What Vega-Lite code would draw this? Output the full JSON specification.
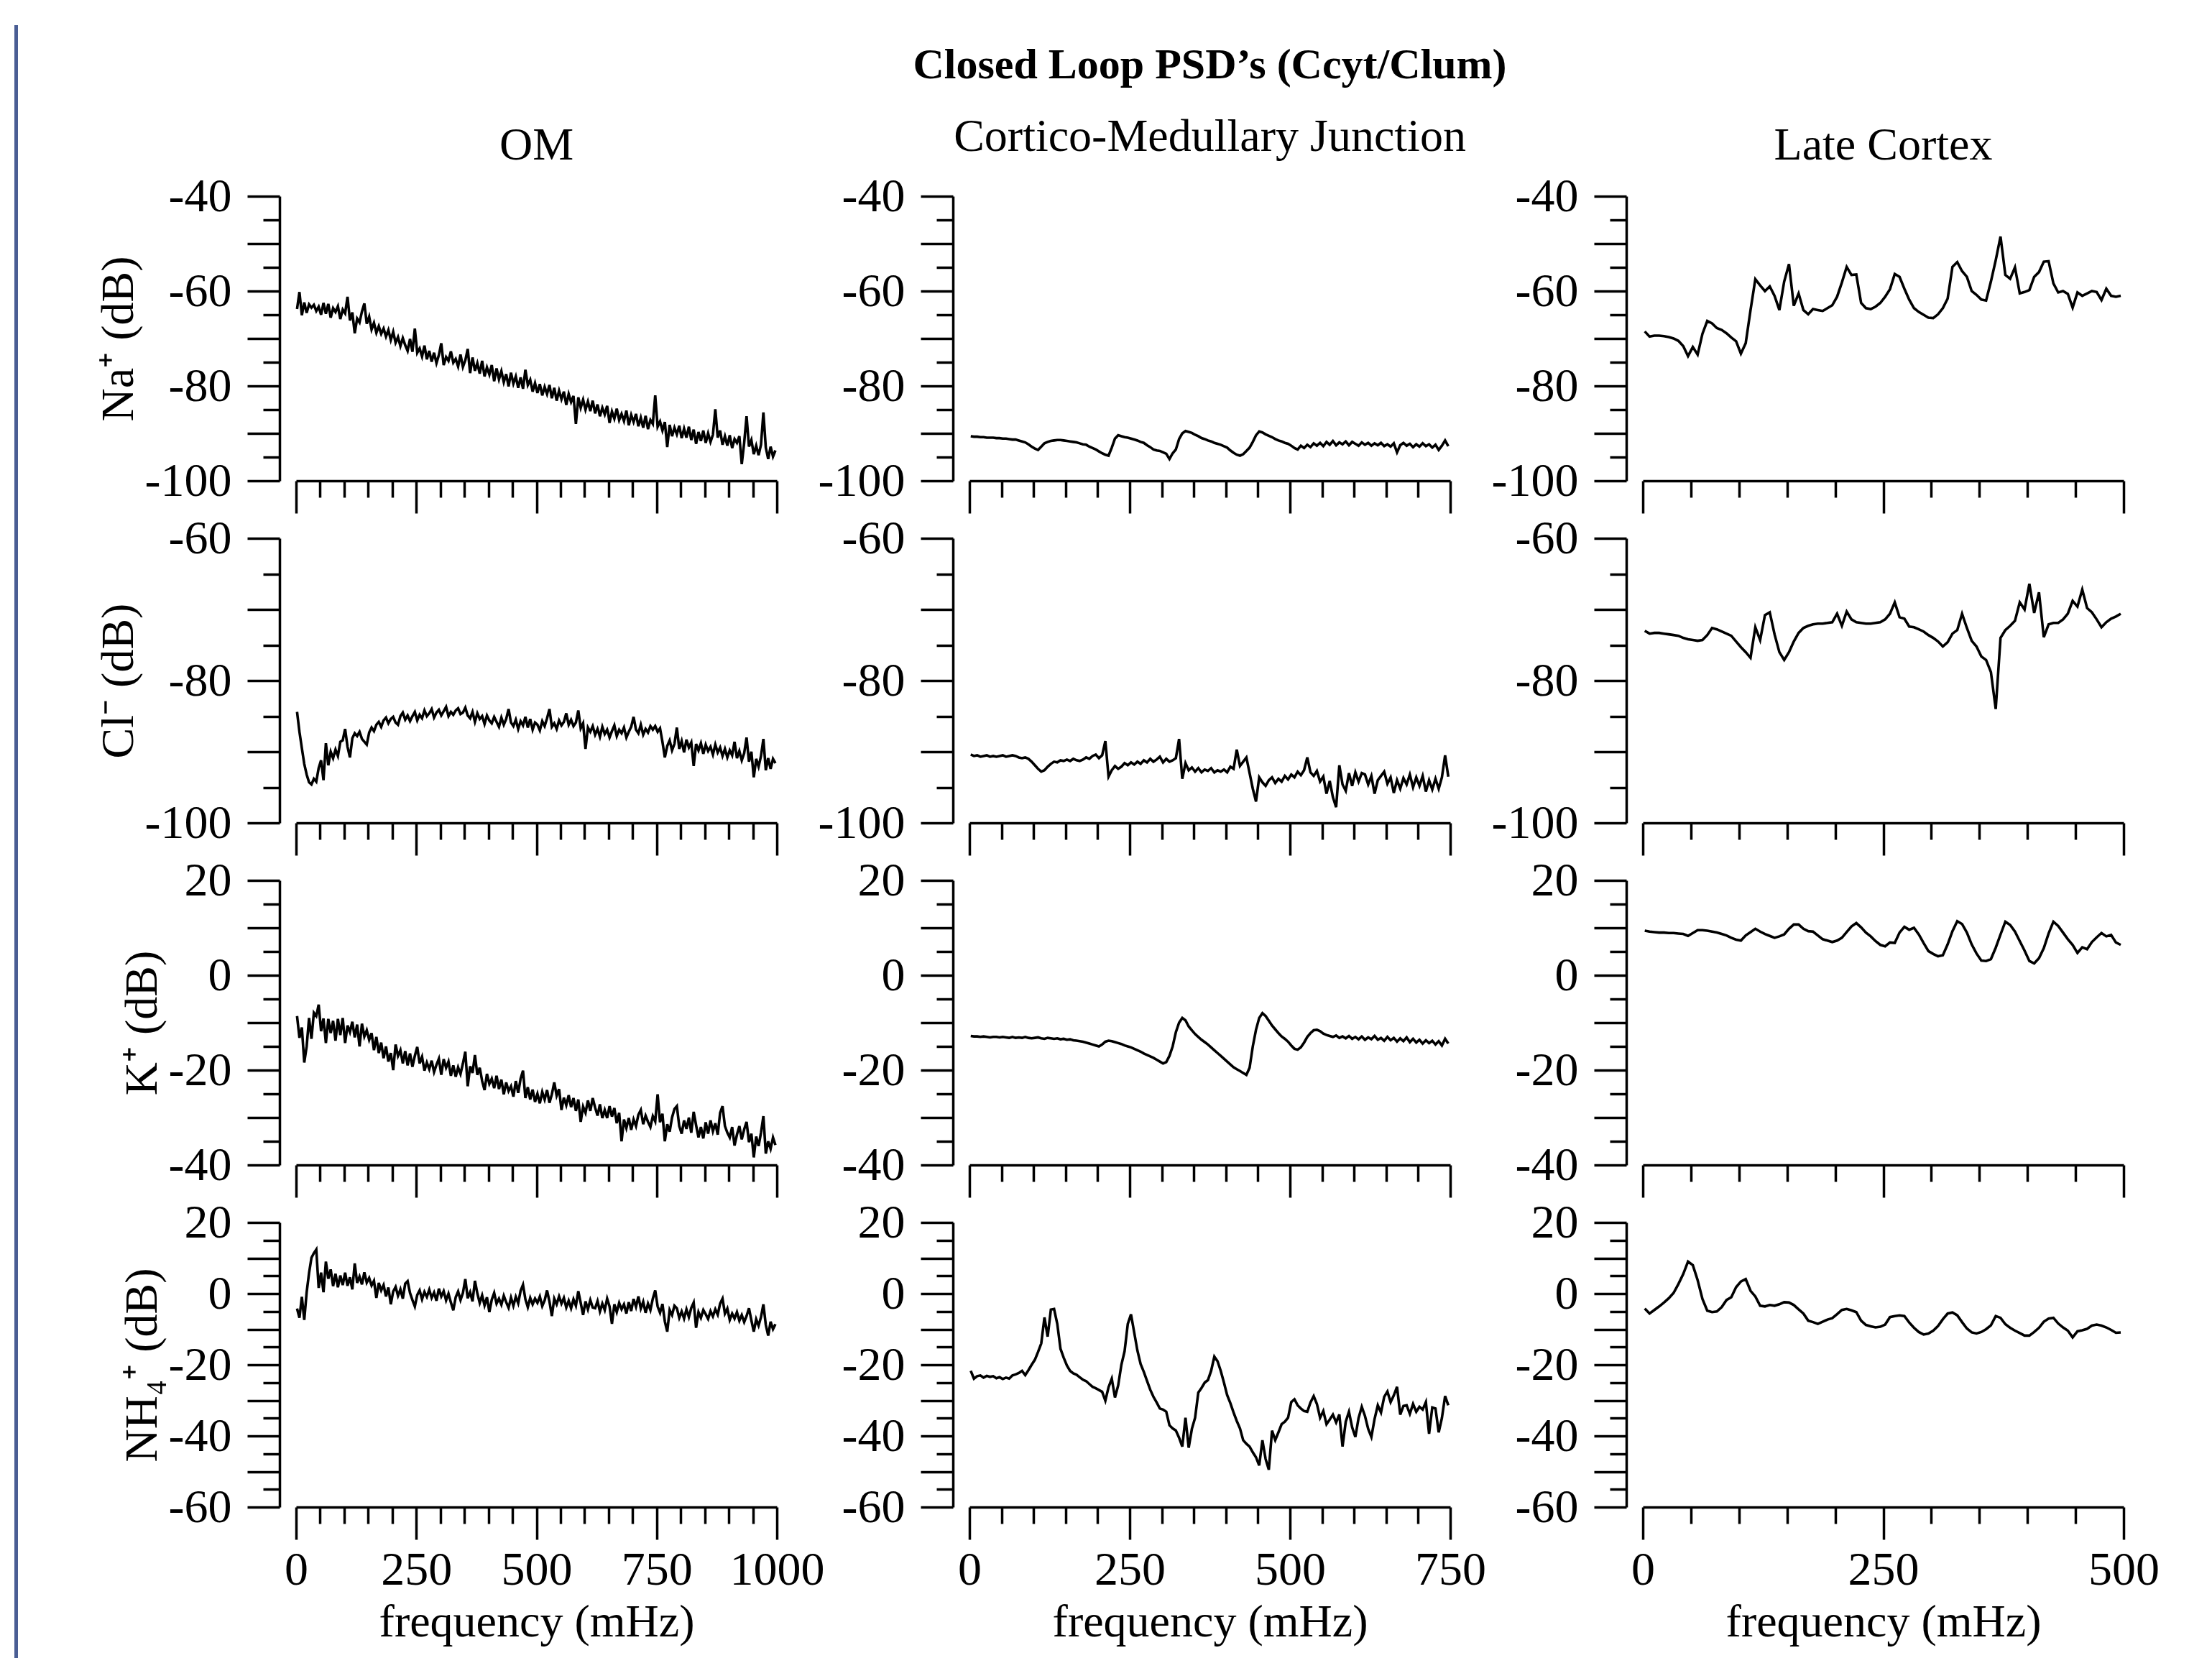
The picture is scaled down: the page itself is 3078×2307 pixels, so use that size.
{
"$schema":"https://vega.github.io/schema/vega-lite/v6.json",
"background":"white",
"padding":{"left":20,"top":35,"right":5,"bottom":0},
"config":{
 "view":{"stroke":null},
 "font":"Liberation Serif",
 "axis":{"grid":false,"domainColor":"black","domainWidth":3.5,"tickColor":"black","tickWidth":3.5,"labelColor":"black","labelFont":"Liberation Serif","labelFontSize":66,"titleFont":"Liberation Serif","titleFontSize":64,"titleFontWeight":"normal","titleColor":"black","labelFlush":false,"labelOverlap":false},
 "title":{"font":"Liberation Serif","color":"black"},
 "line":{"color":"black","strokeWidth":3.6}
},
"datasets":{
"om":[
{"f":2,"na":-63.8,"cl":-84.4,"k":-8.6,"nh4":-4.2},{"f":7,"na":-60.2,"cl":-87.2,"k":-13.2,"nh4":-6.8},{"f":12,"na":-65.1,"cl":-89.5,"k":-11.0,"nh4":-0.9},{"f":17,"na":-62.4,"cl":-91.7,"k":-18.4,"nh4":-7.4},{"f":22,"na":-64.6,"cl":-93.2,"k":-15.0,"nh4":0.4},{"f":27,"na":-62.8,"cl":-94.3,"k":-9.0,"nh4":5.8},{"f":32,"na":-63.5,"cl":-94.6,"k":-13.4,"nh4":10.1},{"f":37,"na":-62.9,"cl":-93.8,"k":-7.9,"nh4":11.4},{"f":42,"na":-64.2,"cl":-94.2,"k":-8.6,"nh4":12.4},{"f":47,"na":-63.3,"cl":-92.3,"k":-6.2,"nh4":1.6},
{"f":52,"na":-65.0,"cl":-91.2,"k":-11.8,"nh4":5.9},{"f":57,"na":-62.5,"cl":-94.0,"k":-9.1,"nh4":0.4},{"f":62,"na":-64.8,"cl":-88.8,"k":-14.3,"nh4":9.0},{"f":67,"na":-62.7,"cl":-91.9,"k":-9.2,"nh4":4.2},{"f":72,"na":-65.6,"cl":-90.0,"k":-12.2,"nh4":6.8},{"f":77,"na":-63.6,"cl":-90.9,"k":-9.6,"nh4":2.1},{"f":82,"na":-64.4,"cl":-89.7,"k":-13.8,"nh4":5.6},{"f":87,"na":-63.2,"cl":-90.6,"k":-9.2,"nh4":1.8},{"f":92,"na":-65.9,"cl":-88.6,"k":-12.6,"nh4":5.1},{"f":97,"na":-63.9,"cl":-88.4,"k":-9.0,"nh4":2.4},
{"f":102,"na":-64.7,"cl":-86.8,"k":-14.3,"nh4":5.9},{"f":107,"na":-61.2,"cl":-89.3,"k":-10.6,"nh4":2.2},{"f":112,"na":-66.2,"cl":-90.8,"k":-12.0,"nh4":4.6},{"f":117,"na":-64.5,"cl":-88.1,"k":-9.8,"nh4":1.2},{"f":122,"na":-68.9,"cl":-87.4,"k":-13.1,"nh4":8.5},{"f":127,"na":-65.8,"cl":-87.8,"k":-10.4,"nh4":3.0},{"f":132,"na":-66.6,"cl":-87.2,"k":-15.0,"nh4":4.8},{"f":137,"na":-64.3,"cl":-88.2,"k":-10.2,"nh4":2.6},{"f":142,"na":-62.6,"cl":-88.6,"k":-12.9,"nh4":6.0},{"f":147,"na":-66.9,"cl":-89.0,"k":-11.6,"nh4":3.1},
{"f":152,"na":-65.4,"cl":-87.3,"k":-13.6,"nh4":4.4},{"f":157,"na":-68.1,"cl":-86.6,"k":-12.2,"nh4":2.3},{"f":162,"na":-66.7,"cl":-87.1,"k":-15.8,"nh4":3.6},{"f":167,"na":-68.8,"cl":-86.2,"k":-13.0,"nh4":-1.2},{"f":172,"na":-67.4,"cl":-85.8,"k":-16.4,"nh4":3.0},{"f":177,"na":-69.0,"cl":-86.5,"k":-14.2,"nh4":0.9},{"f":182,"na":-67.9,"cl":-85.6,"k":-17.5,"nh4":2.4},{"f":187,"na":-69.6,"cl":-85.2,"k":-15.0,"nh4":-0.8},{"f":192,"na":-68.2,"cl":-86.0,"k":-18.2,"nh4":1.7},{"f":197,"na":-70.3,"cl":-85.4,"k":-16.4,"nh4":-3.0},
{"f":202,"na":-68.6,"cl":-85.1,"k":-20.0,"nh4":0.6},{"f":207,"na":-70.9,"cl":-85.9,"k":-14.6,"nh4":1.9},{"f":212,"na":-69.7,"cl":-86.2,"k":-17.0,"nh4":-0.6},{"f":217,"na":-71.6,"cl":-85.0,"k":-15.8,"nh4":1.2},{"f":222,"na":-69.9,"cl":-84.5,"k":-18.6,"nh4":-1.4},{"f":227,"na":-71.4,"cl":-85.5,"k":-16.0,"nh4":2.8},{"f":232,"na":-72.6,"cl":-84.9,"k":-19.0,"nh4":3.5},{"f":237,"na":-70.1,"cl":-85.7,"k":-16.5,"nh4":0.2},{"f":242,"na":-72.8,"cl":-85.0,"k":-19.3,"nh4":-1.8},{"f":247,"na":-67.9,"cl":-84.4,"k":-17.0,"nh4":-3.6},
{"f":252,"na":-73.0,"cl":-85.6,"k":-15.1,"nh4":-0.4},{"f":257,"na":-72.1,"cl":-84.8,"k":-18.6,"nh4":0.9},{"f":262,"na":-73.8,"cl":-85.3,"k":-17.2,"nh4":-1.6},{"f":267,"na":-71.5,"cl":-84.2,"k":-20.1,"nh4":0.5},{"f":272,"na":-74.4,"cl":-85.0,"k":-18.4,"nh4":-0.9},{"f":277,"na":-72.6,"cl":-84.6,"k":-19.8,"nh4":1.1},{"f":282,"na":-74.9,"cl":-84.0,"k":-18.0,"nh4":-1.2},{"f":287,"na":-73.0,"cl":-85.2,"k":-20.4,"nh4":0.3},{"f":292,"na":-75.2,"cl":-84.5,"k":-18.9,"nh4":-2.0},{"f":297,"na":-73.5,"cl":-84.1,"k":-17.6,"nh4":1.4},
{"f":302,"na":-71.0,"cl":-84.9,"k":-21.0,"nh4":-0.8},{"f":307,"na":-75.6,"cl":-84.3,"k":-17.7,"nh4":0.7},{"f":312,"na":-73.9,"cl":-83.7,"k":-19.5,"nh4":-1.9},{"f":317,"na":-74.7,"cl":-85.0,"k":-18.2,"nh4":0.0},{"f":322,"na":-72.7,"cl":-84.4,"k":-21.2,"nh4":-2.5},{"f":327,"na":-75.1,"cl":-84.8,"k":-19.0,"nh4":-4.7},{"f":332,"na":-74.3,"cl":-84.2,"k":-21.4,"nh4":-1.0},{"f":337,"na":-75.9,"cl":-83.9,"k":-19.4,"nh4":0.6},{"f":342,"na":-73.4,"cl":-84.7,"k":-20.8,"nh4":-1.8},{"f":347,"na":-76.0,"cl":-84.5,"k":-18.6,"nh4":0.2},
{"f":352,"na":-74.6,"cl":-83.8,"k":-16.1,"nh4":4.1},{"f":357,"na":-72.2,"cl":-84.9,"k":-23.4,"nh4":-1.3},{"f":362,"na":-77.3,"cl":-85.3,"k":-19.2,"nh4":0.4},{"f":367,"na":-74.0,"cl":-84.4,"k":-20.6,"nh4":-2.2},{"f":372,"na":-76.8,"cl":-85.8,"k":-16.8,"nh4":3.6},{"f":377,"na":-75.2,"cl":-84.6,"k":-21.0,"nh4":0.1},{"f":382,"na":-77.4,"cl":-85.4,"k":-19.5,"nh4":-2.6},{"f":387,"na":-74.7,"cl":-85.0,"k":-22.3,"nh4":-0.5},{"f":392,"na":-78.0,"cl":-86.1,"k":-24.2,"nh4":-3.3},{"f":397,"na":-76.1,"cl":-84.9,"k":-20.8,"nh4":-1.0},
{"f":402,"na":-77.6,"cl":-85.6,"k":-22.9,"nh4":-5.2},{"f":407,"na":-75.6,"cl":-86.0,"k":-21.8,"nh4":-1.7},{"f":412,"na":-79.0,"cl":-85.1,"k":-23.8,"nh4":0.2},{"f":417,"na":-76.3,"cl":-85.8,"k":-21.2,"nh4":-2.8},{"f":422,"na":-78.6,"cl":-86.5,"k":-24.0,"nh4":-1.4},{"f":427,"na":-76.9,"cl":-85.2,"k":-22.0,"nh4":-3.1},{"f":432,"na":-79.2,"cl":-86.2,"k":-25.1,"nh4":-0.6},{"f":437,"na":-77.5,"cl":-85.4,"k":-22.6,"nh4":-2.4},{"f":442,"na":-80.1,"cl":-84.0,"k":-24.4,"nh4":-4.0},{"f":447,"na":-77.2,"cl":-85.9,"k":-23.4,"nh4":-1.1},
{"f":452,"na":-79.5,"cl":-86.4,"k":-25.6,"nh4":-3.4},{"f":457,"na":-78.0,"cl":-85.5,"k":-22.3,"nh4":-0.9},{"f":462,"na":-80.4,"cl":-86.8,"k":-24.8,"nh4":-2.7},{"f":467,"na":-78.2,"cl":-85.7,"k":-21.8,"nh4":0.8},{"f":472,"na":-80.6,"cl":-86.3,"k":-20.1,"nh4":2.5},{"f":477,"na":-76.6,"cl":-85.1,"k":-25.9,"nh4":-1.6},{"f":482,"na":-79.8,"cl":-86.6,"k":-23.6,"nh4":-3.8},{"f":487,"na":-78.7,"cl":-85.4,"k":-26.2,"nh4":-1.2},{"f":492,"na":-81.2,"cl":-86.9,"k":-24.1,"nh4":-3.0},{"f":497,"na":-79.4,"cl":-85.9,"k":-26.7,"nh4":-1.4},
{"f":502,"na":-81.5,"cl":-86.2,"k":-25.0,"nh4":-2.6},{"f":507,"na":-79.6,"cl":-87.0,"k":-27.0,"nh4":-0.8},{"f":512,"na":-82.0,"cl":-85.7,"k":-24.6,"nh4":-3.5},{"f":517,"na":-80.2,"cl":-86.4,"k":-26.2,"nh4":-1.9},{"f":522,"na":-81.7,"cl":-85.3,"k":-24.2,"nh4":0.9},{"f":527,"na":-79.8,"cl":-84.0,"k":-26.9,"nh4":-2.2},{"f":532,"na":-82.6,"cl":-86.5,"k":-25.1,"nh4":-6.3},{"f":537,"na":-80.4,"cl":-86.0,"k":-22.6,"nh4":-1.4},{"f":542,"na":-83.1,"cl":-86.8,"k":-25.4,"nh4":-3.0},{"f":547,"na":-81.0,"cl":-85.6,"k":-24.0,"nh4":-0.8},
{"f":552,"na":-82.8,"cl":-86.3,"k":-28.4,"nh4":-2.8},{"f":557,"na":-81.2,"cl":-85.8,"k":-25.8,"nh4":-1.2},{"f":562,"na":-84.0,"cl":-84.6,"k":-27.4,"nh4":-3.9},{"f":567,"na":-81.7,"cl":-86.2,"k":-25.3,"nh4":-2.0},{"f":572,"na":-83.4,"cl":-85.5,"k":-27.8,"nh4":-4.1},{"f":577,"na":-82.1,"cl":-86.4,"k":-25.9,"nh4":-1.6},{"f":582,"na":-88.0,"cl":-85.9,"k":-28.6,"nh4":-3.4},{"f":587,"na":-82.4,"cl":-84.2,"k":-26.2,"nh4":0.7},{"f":592,"na":-84.6,"cl":-86.7,"k":-30.9,"nh4":-2.6},{"f":597,"na":-82.9,"cl":-86.0,"k":-27.7,"nh4":-6.0},
{"f":602,"na":-85.0,"cl":-89.6,"k":-29.0,"nh4":-2.2},{"f":607,"na":-83.3,"cl":-86.6,"k":-26.4,"nh4":-4.4},{"f":612,"na":-85.3,"cl":-87.2,"k":-28.6,"nh4":-1.8},{"f":617,"na":-83.1,"cl":-86.4,"k":-25.9,"nh4":-3.9},{"f":622,"na":-85.8,"cl":-87.6,"k":-27.9,"nh4":-4.1},{"f":627,"na":-83.9,"cl":-86.8,"k":-29.6,"nh4":-2.1},{"f":632,"na":-86.4,"cl":-87.9,"k":-27.2,"nh4":-5.0},{"f":637,"na":-84.6,"cl":-86.5,"k":-30.1,"nh4":-2.8},{"f":642,"na":-86.0,"cl":-87.5,"k":-28.4,"nh4":-4.6},{"f":647,"na":-84.2,"cl":-86.9,"k":-30.1,"nh4":-1.4},
{"f":652,"na":-87.8,"cl":-88.0,"k":-27.6,"nh4":-3.6},{"f":657,"na":-85.4,"cl":-87.1,"k":-29.8,"nh4":-8.5},{"f":662,"na":-86.9,"cl":-86.3,"k":-28.0,"nh4":-3.0},{"f":667,"na":-84.8,"cl":-87.8,"k":-31.2,"nh4":-5.2},{"f":672,"na":-87.2,"cl":-86.9,"k":-29.0,"nh4":-2.6},{"f":677,"na":-85.9,"cl":-87.4,"k":-35.0,"nh4":-4.4},{"f":682,"na":-87.4,"cl":-86.6,"k":-30.4,"nh4":-3.0},{"f":687,"na":-85.2,"cl":-88.0,"k":-32.2,"nh4":-5.6},{"f":692,"na":-88.3,"cl":-87.2,"k":-30.1,"nh4":-2.4},{"f":697,"na":-86.1,"cl":-86.5,"k":-32.6,"nh4":-4.9},
{"f":702,"na":-87.6,"cl":-85.1,"k":-30.4,"nh4":-1.5},{"f":707,"na":-85.9,"cl":-86.9,"k":-31.8,"nh4":-3.7},{"f":712,"na":-88.5,"cl":-87.4,"k":-29.4,"nh4":-0.8},{"f":717,"na":-86.7,"cl":-86.2,"k":-28.4,"nh4":-4.2},{"f":722,"na":-88.8,"cl":-87.6,"k":-31.4,"nh4":-2.3},{"f":727,"na":-86.3,"cl":-86.8,"k":-29.6,"nh4":-5.4},{"f":732,"na":-89.1,"cl":-87.3,"k":-30.9,"nh4":-2.8},{"f":737,"na":-87.2,"cl":-86.4,"k":-32.0,"nh4":-4.6},{"f":742,"na":-88.0,"cl":-86.9,"k":-29.7,"nh4":-1.4},{"f":747,"na":-82.0,"cl":-86.4,"k":-30.8,"nh4":0.9},
{"f":752,"na":-88.6,"cl":-87.2,"k":-25.1,"nh4":-3.6},{"f":757,"na":-87.5,"cl":-86.7,"k":-31.0,"nh4":-5.4},{"f":762,"na":-89.4,"cl":-88.6,"k":-29.2,"nh4":-2.9},{"f":767,"na":-87.6,"cl":-90.8,"k":-35.0,"nh4":-7.8},{"f":772,"na":-92.9,"cl":-89.2,"k":-31.4,"nh4":-10.7},{"f":777,"na":-88.2,"cl":-88.4,"k":-33.0,"nh4":-4.6},{"f":782,"na":-90.6,"cl":-89.8,"k":-30.0,"nh4":-6.0},{"f":787,"na":-88.8,"cl":-88.9,"k":-28.2,"nh4":-3.4},{"f":792,"na":-90.2,"cl":-86.6,"k":-27.6,"nh4":-4.1},{"f":797,"na":-88.4,"cl":-89.6,"k":-31.8,"nh4":-6.8},
{"f":802,"na":-91.0,"cl":-88.5,"k":-33.4,"nh4":-5.0},{"f":807,"na":-89.0,"cl":-90.1,"k":-30.6,"nh4":-7.0},{"f":812,"na":-90.9,"cl":-88.3,"k":-32.4,"nh4":-4.4},{"f":817,"na":-88.6,"cl":-89.4,"k":-30.0,"nh4":-6.6},{"f":822,"na":-91.4,"cl":-88.7,"k":-33.2,"nh4":-4.0},{"f":827,"na":-89.2,"cl":-92.0,"k":-28.8,"nh4":-2.5},{"f":832,"na":-92.2,"cl":-88.9,"k":-31.6,"nh4":-9.6},{"f":837,"na":-89.7,"cl":-89.8,"k":-34.2,"nh4":-5.2},{"f":842,"na":-91.6,"cl":-88.8,"k":-32.0,"nh4":-6.8},{"f":847,"na":-89.4,"cl":-90.3,"k":-34.4,"nh4":-4.6},
{"f":852,"na":-92.0,"cl":-89.0,"k":-31.0,"nh4":-5.8},{"f":857,"na":-90.0,"cl":-89.9,"k":-33.4,"nh4":-7.1},{"f":862,"na":-91.8,"cl":-89.3,"k":-30.6,"nh4":-4.9},{"f":867,"na":-90.3,"cl":-90.4,"k":-32.9,"nh4":-6.4},{"f":872,"na":-84.9,"cl":-89.0,"k":-31.2,"nh4":-4.4},{"f":877,"na":-90.9,"cl":-90.1,"k":-33.6,"nh4":-5.9},{"f":882,"na":-89.4,"cl":-89.4,"k":-29.0,"nh4":-2.8},{"f":887,"na":-92.4,"cl":-90.6,"k":-27.6,"nh4":-1.4},{"f":892,"na":-90.6,"cl":-89.6,"k":-31.8,"nh4":-5.6},{"f":897,"na":-92.6,"cl":-90.8,"k":-33.2,"nh4":-4.2},
{"f":902,"na":-90.4,"cl":-89.8,"k":-34.2,"nh4":-7.4},{"f":907,"na":-93.1,"cl":-90.5,"k":-32.0,"nh4":-5.6},{"f":912,"na":-91.2,"cl":-88.6,"k":-35.9,"nh4":-7.0},{"f":917,"na":-92.0,"cl":-90.9,"k":-33.6,"nh4":-5.2},{"f":922,"na":-90.6,"cl":-89.9,"k":-31.8,"nh4":-7.6},{"f":927,"na":-96.5,"cl":-91.2,"k":-34.6,"nh4":-6.0},{"f":932,"na":-92.0,"cl":-90.2,"k":-32.5,"nh4":-8.0},{"f":937,"na":-86.4,"cl":-88.0,"k":-30.9,"nh4":-6.3},{"f":942,"na":-92.8,"cl":-91.4,"k":-35.2,"nh4":-4.1},{"f":947,"na":-91.4,"cl":-90.0,"k":-33.4,"nh4":-7.5},
{"f":952,"na":-94.4,"cl":-93.6,"k":-38.4,"nh4":-10.7},{"f":957,"na":-92.6,"cl":-91.0,"k":-34.0,"nh4":-7.2},{"f":962,"na":-94.6,"cl":-92.1,"k":-36.0,"nh4":-9.0},{"f":967,"na":-92.4,"cl":-90.6,"k":-33.2,"nh4":-6.6},{"f":972,"na":-85.6,"cl":-88.2,"k":-29.7,"nh4":-3.0},{"f":977,"na":-93.0,"cl":-92.6,"k":-37.6,"nh4":-8.8},{"f":982,"na":-95.4,"cl":-90.9,"k":-35.0,"nh4":-11.8},{"f":987,"na":-92.8,"cl":-92.4,"k":-36.6,"nh4":-7.9},{"f":992,"na":-94.9,"cl":-91.0,"k":-34.2,"nh4":-10.0},{"f":997,"na":-93.6,"cl":-91.6,"k":-35.8,"nh4":-8.6}
],
"cmj":[
{"f":2,"na":-90.6,"cl":-90.4,"k":-12.8,"nh4":-21.7},{"f":7,"na":-90.7,"cl":-90.6,"k":-12.9,"nh4":-23.9},{"f":12,"na":-90.7,"cl":-90.5,"k":-12.9,"nh4":-23.2},{"f":17,"na":-90.8,"cl":-90.7,"k":-13.0,"nh4":-23.0},{"f":22,"na":-90.8,"cl":-90.6,"k":-12.9,"nh4":-23.6},{"f":27,"na":-90.9,"cl":-90.5,"k":-13.0,"nh4":-23.1},{"f":32,"na":-90.9,"cl":-90.7,"k":-13.1,"nh4":-23.4},{"f":37,"na":-90.9,"cl":-90.6,"k":-13.0,"nh4":-23.2},{"f":42,"na":-91.0,"cl":-90.7,"k":-13.0,"nh4":-23.8},{"f":47,"na":-91.0,"cl":-90.6,"k":-13.1,"nh4":-23.5},
{"f":52,"na":-91.1,"cl":-90.5,"k":-13.0,"nh4":-24.0},{"f":57,"na":-91.1,"cl":-90.7,"k":-13.1,"nh4":-23.6},{"f":62,"na":-91.2,"cl":-90.6,"k":-13.2,"nh4":-23.9},{"f":67,"na":-91.3,"cl":-90.5,"k":-13.0,"nh4":-23.0},{"f":72,"na":-91.3,"cl":-90.6,"k":-13.2,"nh4":-22.7},{"f":77,"na":-91.5,"cl":-90.8,"k":-13.1,"nh4":-22.3},{"f":82,"na":-91.7,"cl":-90.9,"k":-13.2,"nh4":-21.7},{"f":87,"na":-91.9,"cl":-90.8,"k":-13.0,"nh4":-22.9},{"f":92,"na":-92.3,"cl":-91.0,"k":-13.2,"nh4":-21.5},{"f":97,"na":-92.8,"cl":-91.4,"k":-13.3,"nh4":-20.0},
{"f":102,"na":-93.2,"cl":-91.9,"k":-13.2,"nh4":-18.6},{"f":107,"na":-93.5,"cl":-92.4,"k":-13.1,"nh4":-16.4},{"f":112,"na":-92.8,"cl":-92.8,"k":-13.3,"nh4":-14.0},{"f":117,"na":-92.1,"cl":-92.6,"k":-13.4,"nh4":-6.7},{"f":122,"na":-91.8,"cl":-92.1,"k":-13.2,"nh4":-12.1},{"f":127,"na":-91.6,"cl":-91.7,"k":-13.3,"nh4":-4.5},{"f":132,"na":-91.5,"cl":-91.4,"k":-13.4,"nh4":-4.3},{"f":137,"na":-91.4,"cl":-91.5,"k":-13.3,"nh4":-8.5},{"f":142,"na":-91.4,"cl":-91.2,"k":-13.5,"nh4":-15.5},{"f":147,"na":-91.5,"cl":-91.3,"k":-13.4,"nh4":-18.0},
{"f":152,"na":-91.6,"cl":-91.1,"k":-13.6,"nh4":-20.2},{"f":157,"na":-91.7,"cl":-91.3,"k":-13.5,"nh4":-21.7},{"f":162,"na":-91.8,"cl":-91.0,"k":-13.7,"nh4":-22.4},{"f":167,"na":-91.9,"cl":-91.2,"k":-13.8,"nh4":-22.8},{"f":172,"na":-92.1,"cl":-91.3,"k":-13.9,"nh4":-23.5},{"f":177,"na":-92.3,"cl":-91.1,"k":-14.0,"nh4":-24.2},{"f":182,"na":-92.4,"cl":-90.8,"k":-14.2,"nh4":-24.6},{"f":187,"na":-92.8,"cl":-91.0,"k":-14.4,"nh4":-25.4},{"f":192,"na":-93.1,"cl":-90.6,"k":-14.6,"nh4":-26.2},{"f":197,"na":-93.4,"cl":-90.4,"k":-14.8,"nh4":-26.6},
{"f":202,"na":-93.8,"cl":-90.9,"k":-15.0,"nh4":-27.1},{"f":207,"na":-94.2,"cl":-90.5,"k":-14.6,"nh4":-27.6},{"f":212,"na":-94.5,"cl":-88.5,"k":-14.0,"nh4":-30.1},{"f":217,"na":-94.7,"cl":-93.5,"k":-13.8,"nh4":-26.3},{"f":222,"na":-93.0,"cl":-92.6,"k":-13.9,"nh4":-23.9},{"f":227,"na":-91.1,"cl":-92.0,"k":-14.1,"nh4":-29.2},{"f":232,"na":-90.4,"cl":-92.4,"k":-14.3,"nh4":-25.8},{"f":237,"na":-90.6,"cl":-92.1,"k":-14.5,"nh4":-20.0},{"f":242,"na":-90.8,"cl":-91.6,"k":-14.8,"nh4":-16.2},{"f":247,"na":-90.9,"cl":-91.9,"k":-15.0,"nh4":-8.5},
{"f":252,"na":-91.1,"cl":-91.5,"k":-15.2,"nh4":-5.8},{"f":257,"na":-91.3,"cl":-91.8,"k":-15.5,"nh4":-10.9},{"f":262,"na":-91.5,"cl":-91.4,"k":-15.8,"nh4":-16.0},{"f":267,"na":-91.8,"cl":-91.7,"k":-16.1,"nh4":-19.8},{"f":272,"na":-92.0,"cl":-91.2,"k":-16.5,"nh4":-22.0},{"f":277,"na":-92.5,"cl":-91.5,"k":-16.8,"nh4":-24.5},{"f":282,"na":-92.9,"cl":-91.0,"k":-17.1,"nh4":-27.0},{"f":287,"na":-93.4,"cl":-91.4,"k":-17.4,"nh4":-29.0},{"f":292,"na":-93.6,"cl":-91.1,"k":-17.8,"nh4":-30.6},{"f":297,"na":-93.7,"cl":-90.7,"k":-18.2,"nh4":-32.3},
{"f":302,"na":-94.0,"cl":-91.5,"k":-18.6,"nh4":-32.6},{"f":307,"na":-94.3,"cl":-91.0,"k":-18.3,"nh4":-33.2},{"f":312,"na":-95.4,"cl":-91.4,"k":-17.0,"nh4":-37.0},{"f":317,"na":-94.2,"cl":-91.2,"k":-15.0,"nh4":-37.9},{"f":322,"na":-93.4,"cl":-90.9,"k":-12.0,"nh4":-38.5},{"f":327,"na":-91.2,"cl":-88.2,"k":-10.0,"nh4":-40.5},{"f":332,"na":-90.0,"cl":-93.8,"k":-9.0,"nh4":-43.0},{"f":337,"na":-89.5,"cl":-91.6,"k":-9.5,"nh4":-34.9},{"f":342,"na":-89.7,"cl":-92.6,"k":-10.8,"nh4":-43.3},{"f":347,"na":-89.9,"cl":-92.2,"k":-11.6,"nh4":-38.0},
{"f":352,"na":-90.3,"cl":-92.8,"k":-12.4,"nh4":-34.9},{"f":357,"na":-90.6,"cl":-92.3,"k":-13.0,"nh4":-27.8},{"f":362,"na":-91.0,"cl":-92.9,"k":-13.6,"nh4":-26.5},{"f":367,"na":-91.2,"cl":-92.5,"k":-14.1,"nh4":-25.0},{"f":372,"na":-91.5,"cl":-92.7,"k":-14.6,"nh4":-24.3},{"f":377,"na":-91.7,"cl":-92.3,"k":-15.2,"nh4":-21.7},{"f":382,"na":-92.0,"cl":-92.9,"k":-15.8,"nh4":-17.7},{"f":387,"na":-92.2,"cl":-92.6,"k":-16.4,"nh4":-19.0},{"f":392,"na":-92.4,"cl":-92.8,"k":-17.0,"nh4":-21.7},{"f":397,"na":-92.7,"cl":-92.5,"k":-17.6,"nh4":-25.0},
{"f":402,"na":-93.0,"cl":-92.9,"k":-18.2,"nh4":-28.5},{"f":407,"na":-93.6,"cl":-92.1,"k":-18.8,"nh4":-30.8},{"f":412,"na":-94.1,"cl":-92.4,"k":-19.4,"nh4":-33.4},{"f":417,"na":-94.5,"cl":-89.7,"k":-19.8,"nh4":-35.8},{"f":422,"na":-94.7,"cl":-92.0,"k":-20.2,"nh4":-37.9},{"f":427,"na":-94.4,"cl":-91.4,"k":-20.6,"nh4":-41.2},{"f":432,"na":-93.7,"cl":-90.8,"k":-21.0,"nh4":-42.2},{"f":437,"na":-93.0,"cl":-93.0,"k":-19.5,"nh4":-43.0},{"f":442,"na":-91.8,"cl":-95.2,"k":-15.0,"nh4":-44.6},{"f":447,"na":-90.4,"cl":-97.0,"k":-11.5,"nh4":-46.0},
{"f":452,"na":-89.6,"cl":-93.6,"k":-9.0,"nh4":-48.3},{"f":457,"na":-89.8,"cl":-94.3,"k":-8.0,"nh4":-41.2},{"f":462,"na":-90.2,"cl":-94.8,"k":-8.6,"nh4":-46.5},{"f":467,"na":-90.5,"cl":-94.0,"k":-9.6,"nh4":-49.5},{"f":472,"na":-90.8,"cl":-93.6,"k":-10.6,"nh4":-38.5},{"f":477,"na":-91.2,"cl":-94.4,"k":-11.4,"nh4":-41.2},{"f":482,"na":-91.5,"cl":-93.8,"k":-12.2,"nh4":-39.0},{"f":487,"na":-91.7,"cl":-94.2,"k":-12.9,"nh4":-36.7},{"f":492,"na":-92.0,"cl":-93.4,"k":-13.4,"nh4":-36.0},{"f":497,"na":-92.2,"cl":-93.9,"k":-14.0,"nh4":-34.9},
{"f":502,"na":-92.6,"cl":-93.2,"k":-14.8,"nh4":-30.5},{"f":507,"na":-93.1,"cl":-93.6,"k":-15.5,"nh4":-29.7},{"f":512,"na":-93.4,"cl":-92.8,"k":-15.7,"nh4":-31.4},{"f":517,"na":-92.6,"cl":-93.3,"k":-15.2,"nh4":-32.3},{"f":522,"na":-93.1,"cl":-92.6,"k":-14.2,"nh4":-33.0},{"f":527,"na":-92.4,"cl":-90.8,"k":-13.0,"nh4":-33.2},{"f":532,"na":-92.9,"cl":-92.9,"k":-12.2,"nh4":-30.6},{"f":537,"na":-92.1,"cl":-93.4,"k":-11.6,"nh4":-28.8},{"f":542,"na":-92.6,"cl":-92.7,"k":-11.5,"nh4":-31.0},{"f":547,"na":-92.0,"cl":-94.2,"k":-11.8,"nh4":-34.9},
{"f":552,"na":-92.7,"cl":-93.5,"k":-12.3,"nh4":-33.0},{"f":557,"na":-91.8,"cl":-95.9,"k":-12.6,"nh4":-36.7},{"f":562,"na":-92.4,"cl":-94.1,"k":-12.8,"nh4":-35.4},{"f":567,"na":-91.6,"cl":-96.4,"k":-13.0,"nh4":-34.0},{"f":572,"na":-92.5,"cl":-97.8,"k":-12.7,"nh4":-36.2},{"f":577,"na":-91.9,"cl":-91.9,"k":-13.2,"nh4":-34.0},{"f":582,"na":-92.3,"cl":-94.6,"k":-12.9,"nh4":-43.0},{"f":587,"na":-91.7,"cl":-95.5,"k":-13.3,"nh4":-36.0},{"f":592,"na":-92.5,"cl":-93.0,"k":-12.8,"nh4":-33.2},{"f":597,"na":-91.8,"cl":-94.8,"k":-13.4,"nh4":-37.6},
{"f":602,"na":-92.2,"cl":-92.9,"k":-13.0,"nh4":-40.3},{"f":607,"na":-92.6,"cl":-94.2,"k":-13.5,"nh4":-35.0},{"f":612,"na":-91.9,"cl":-93.0,"k":-12.9,"nh4":-31.8},{"f":617,"na":-92.4,"cl":-93.2,"k":-13.6,"nh4":-34.4},{"f":622,"na":-92.0,"cl":-94.6,"k":-13.1,"nh4":-38.0},{"f":627,"na":-92.6,"cl":-93.4,"k":-13.5,"nh4":-40.3},{"f":632,"na":-92.1,"cl":-95.9,"k":-12.8,"nh4":-35.2},{"f":637,"na":-92.5,"cl":-94.0,"k":-13.6,"nh4":-31.4},{"f":642,"na":-92.0,"cl":-93.4,"k":-13.2,"nh4":-33.4},{"f":647,"na":-92.7,"cl":-92.8,"k":-13.8,"nh4":-29.0},
{"f":652,"na":-92.3,"cl":-94.5,"k":-13.0,"nh4":-27.5},{"f":657,"na":-92.8,"cl":-93.6,"k":-13.7,"nh4":-30.5},{"f":662,"na":-92.1,"cl":-95.8,"k":-13.2,"nh4":-28.6},{"f":667,"na":-94.0,"cl":-94.0,"k":-14.0,"nh4":-26.2},{"f":672,"na":-92.5,"cl":-95.2,"k":-13.3,"nh4":-34.0},{"f":677,"na":-92.0,"cl":-93.7,"k":-13.9,"nh4":-31.6},{"f":682,"na":-92.6,"cl":-94.6,"k":-13.1,"nh4":-31.4},{"f":687,"na":-92.2,"cl":-93.2,"k":-14.1,"nh4":-33.8},{"f":692,"na":-92.9,"cl":-95.0,"k":-13.4,"nh4":-31.0},{"f":697,"na":-92.3,"cl":-93.6,"k":-14.2,"nh4":-33.2},
{"f":702,"na":-92.8,"cl":-94.8,"k":-13.6,"nh4":-31.8},{"f":707,"na":-92.1,"cl":-93.4,"k":-14.4,"nh4":-32.6},{"f":712,"na":-92.7,"cl":-95.6,"k":-13.7,"nh4":-30.5},{"f":717,"na":-92.3,"cl":-94.0,"k":-14.3,"nh4":-39.4},{"f":722,"na":-93.0,"cl":-95.3,"k":-13.8,"nh4":-32.0},{"f":727,"na":-92.4,"cl":-93.8,"k":-14.6,"nh4":-32.3},{"f":732,"na":-93.5,"cl":-95.2,"k":-13.9,"nh4":-39.0},{"f":737,"na":-92.6,"cl":-93.6,"k":-14.8,"nh4":-35.0},{"f":742,"na":-91.5,"cl":-90.5,"k":-13.4,"nh4":-28.8},{"f":747,"na":-92.7,"cl":-93.5,"k":-14.4,"nh4":-31.4}
],
"lc":[
{"f":2,"na":-68.5,"cl":-73.0,"k":9.4,"nh4":-4.2},{"f":7,"na":-69.6,"cl":-73.4,"k":9.2,"nh4":-5.6},{"f":12,"na":-69.4,"cl":-73.3,"k":9.1,"nh4":-4.6},{"f":17,"na":-69.4,"cl":-73.3,"k":9.0,"nh4":-3.6},{"f":22,"na":-69.5,"cl":-73.4,"k":9.0,"nh4":-2.5},{"f":27,"na":-69.7,"cl":-73.5,"k":8.9,"nh4":-1.3},{"f":32,"na":-70.0,"cl":-73.6,"k":8.9,"nh4":0.2},{"f":37,"na":-70.5,"cl":-73.7,"k":8.8,"nh4":2.7},{"f":42,"na":-71.6,"cl":-74.0,"k":8.7,"nh4":5.5},{"f":47,"na":-73.7,"cl":-74.2,"k":8.3,"nh4":9.0},
{"f":52,"na":-71.8,"cl":-74.3,"k":8.9,"nh4":8.0},{"f":57,"na":-73.4,"cl":-74.4,"k":9.5,"nh4":3.8},{"f":62,"na":-69.0,"cl":-74.3,"k":9.5,"nh4":-1.5},{"f":67,"na":-66.3,"cl":-73.6,"k":9.4,"nh4":-4.8},{"f":72,"na":-66.8,"cl":-72.6,"k":9.2,"nh4":-5.2},{"f":77,"na":-67.8,"cl":-72.8,"k":9.0,"nh4":-5.0},{"f":82,"na":-68.2,"cl":-73.1,"k":8.7,"nh4":-3.8},{"f":87,"na":-68.9,"cl":-73.4,"k":8.4,"nh4":-1.8},{"f":92,"na":-69.8,"cl":-73.7,"k":7.9,"nh4":-1.0},{"f":97,"na":-70.6,"cl":-74.5,"k":7.5,"nh4":1.8},
{"f":102,"na":-73.2,"cl":-75.3,"k":7.3,"nh4":3.4},{"f":107,"na":-71.0,"cl":-76.0,"k":8.4,"nh4":4.1},{"f":112,"na":-64.0,"cl":-76.8,"k":9.1,"nh4":0.8},{"f":117,"na":-57.5,"cl":-72.5,"k":9.8,"nh4":-0.8},{"f":122,"na":-58.8,"cl":-74.3,"k":9.2,"nh4":-3.4},{"f":127,"na":-60.0,"cl":-70.8,"k":8.7,"nh4":-3.6},{"f":132,"na":-59.0,"cl":-70.4,"k":8.3,"nh4":-3.2},{"f":137,"na":-61.0,"cl":-73.5,"k":7.9,"nh4":-3.4},{"f":142,"na":-64.0,"cl":-76.0,"k":8.2,"nh4":-3.0},{"f":147,"na":-58.0,"cl":-77.1,"k":8.6,"nh4":-2.4},
{"f":152,"na":-54.3,"cl":-76.0,"k":9.8,"nh4":-2.5},{"f":157,"na":-63.1,"cl":-74.5,"k":10.7,"nh4":-3.2},{"f":162,"na":-60.5,"cl":-73.3,"k":10.7,"nh4":-4.4},{"f":167,"na":-64.0,"cl":-72.6,"k":9.8,"nh4":-5.6},{"f":172,"na":-64.9,"cl":-72.3,"k":9.3,"nh4":-7.6},{"f":177,"na":-63.8,"cl":-72.1,"k":9.2,"nh4":-8.0},{"f":182,"na":-64.0,"cl":-72.0,"k":8.4,"nh4":-8.5},{"f":187,"na":-64.2,"cl":-72.0,"k":7.6,"nh4":-7.9},{"f":192,"na":-63.6,"cl":-71.9,"k":7.3,"nh4":-7.3},{"f":197,"na":-63.0,"cl":-71.8,"k":7.0,"nh4":-6.9},
{"f":202,"na":-61.2,"cl":-70.6,"k":7.3,"nh4":-5.8},{"f":207,"na":-58.2,"cl":-72.3,"k":7.9,"nh4":-4.6},{"f":212,"na":-54.9,"cl":-70.3,"k":9.1,"nh4":-4.3},{"f":217,"na":-56.6,"cl":-71.4,"k":10.3,"nh4":-4.7},{"f":222,"na":-56.5,"cl":-71.8,"k":11.0,"nh4":-5.2},{"f":227,"na":-62.5,"cl":-71.9,"k":10.1,"nh4":-7.6},{"f":232,"na":-63.6,"cl":-72.0,"k":9.0,"nh4":-8.8},{"f":237,"na":-63.8,"cl":-72.0,"k":8.2,"nh4":-9.2},{"f":242,"na":-63.3,"cl":-71.9,"k":7.2,"nh4":-9.5},{"f":247,"na":-62.5,"cl":-71.8,"k":6.4,"nh4":-9.3},
{"f":252,"na":-61.2,"cl":-71.4,"k":6.1,"nh4":-8.7},{"f":257,"na":-59.6,"cl":-70.6,"k":6.9,"nh4":-6.6},{"f":262,"na":-56.4,"cl":-69.0,"k":6.8,"nh4":-6.3},{"f":267,"na":-57.0,"cl":-71.1,"k":9.0,"nh4":-6.1},{"f":272,"na":-59.5,"cl":-71.3,"k":10.2,"nh4":-6.3},{"f":277,"na":-61.8,"cl":-72.4,"k":9.6,"nh4":-8.1},{"f":282,"na":-63.6,"cl":-72.5,"k":10.0,"nh4":-9.6},{"f":287,"na":-64.4,"cl":-72.8,"k":8.6,"nh4":-10.8},{"f":292,"na":-65.0,"cl":-73.1,"k":6.8,"nh4":-11.5},{"f":297,"na":-65.6,"cl":-73.6,"k":5.1,"nh4":-11.2},
{"f":302,"na":-65.7,"cl":-74.0,"k":4.5,"nh4":-10.4},{"f":307,"na":-64.9,"cl":-74.5,"k":4.0,"nh4":-9.1},{"f":312,"na":-63.6,"cl":-75.2,"k":4.2,"nh4":-7.2},{"f":317,"na":-61.6,"cl":-74.6,"k":6.5,"nh4":-5.6},{"f":322,"na":-54.9,"cl":-73.4,"k":9.3,"nh4":-5.3},{"f":327,"na":-53.9,"cl":-72.9,"k":11.4,"nh4":-6.1},{"f":332,"na":-55.8,"cl":-70.6,"k":10.8,"nh4":-8.0},{"f":337,"na":-57.0,"cl":-72.6,"k":9.0,"nh4":-9.8},{"f":342,"na":-60.0,"cl":-74.4,"k":6.5,"nh4":-10.9},{"f":347,"na":-60.8,"cl":-75.2,"k":4.6,"nh4":-11.2},
{"f":352,"na":-61.8,"cl":-76.6,"k":3.1,"nh4":-10.8},{"f":357,"na":-62.0,"cl":-77.1,"k":3.0,"nh4":-10.0},{"f":362,"na":-58.0,"cl":-78.8,"k":3.4,"nh4":-8.9},{"f":367,"na":-53.5,"cl":-84.0,"k":5.8,"nh4":-6.3},{"f":372,"na":-48.5,"cl":-74.0,"k":8.6,"nh4":-6.8},{"f":377,"na":-56.6,"cl":-72.9,"k":11.3,"nh4":-8.6},{"f":382,"na":-57.4,"cl":-72.3,"k":10.6,"nh4":-9.6},{"f":387,"na":-55.0,"cl":-71.6,"k":9.2,"nh4":-10.4},{"f":392,"na":-60.5,"cl":-69.0,"k":7.2,"nh4":-11.1},{"f":397,"na":-60.2,"cl":-70.0,"k":5.2,"nh4":-11.8},
{"f":402,"na":-59.8,"cl":-66.4,"k":3.0,"nh4":-11.8},{"f":407,"na":-57.0,"cl":-70.5,"k":2.5,"nh4":-10.8},{"f":412,"na":-56.0,"cl":-67.6,"k":3.6,"nh4":-9.6},{"f":417,"na":-53.8,"cl":-73.9,"k":5.7,"nh4":-7.9},{"f":422,"na":-53.7,"cl":-72.1,"k":8.8,"nh4":-7.0},{"f":427,"na":-58.4,"cl":-71.9,"k":11.3,"nh4":-6.8},{"f":432,"na":-60.3,"cl":-71.9,"k":10.4,"nh4":-8.4},{"f":437,"na":-60.0,"cl":-71.4,"k":9.0,"nh4":-9.5},{"f":442,"na":-60.6,"cl":-70.6,"k":7.6,"nh4":-10.4},{"f":447,"na":-63.5,"cl":-68.8,"k":6.4,"nh4":-12.3},
{"f":452,"na":-60.3,"cl":-69.6,"k":4.7,"nh4":-10.6},{"f":457,"na":-61.0,"cl":-67.2,"k":5.9,"nh4":-10.3},{"f":462,"na":-60.5,"cl":-69.8,"k":5.5,"nh4":-9.9},{"f":467,"na":-60.0,"cl":-70.4,"k":7.0,"nh4":-9.0},{"f":472,"na":-60.2,"cl":-71.4,"k":8.0,"nh4":-8.7},{"f":477,"na":-61.9,"cl":-72.5,"k":8.9,"nh4":-9.0},{"f":482,"na":-59.5,"cl":-71.8,"k":8.2,"nh4":-9.5},{"f":487,"na":-61.0,"cl":-71.3,"k":8.5,"nh4":-10.2},{"f":492,"na":-61.2,"cl":-71.0,"k":6.9,"nh4":-11.0},{"f":497,"na":-61.0,"cl":-70.6,"k":6.4,"nh4":-10.9}
]
},
"hconcat":[
{"width":5,"height":2280,"view":{"fill":"#4a5e94","stroke":null},"data":{"values":[]},"mark":{"type":"rule"},"encoding":{}},
{
"vconcat":[
{"width":2543,"height":10,"data":{"values":[]},"mark":{"type":"rule"},"encoding":{},
 "title":{"text":"Closed Loop PSD’s (Ccyt/Clum)","orient":"bottom","fontSize":60,"fontWeight":"bold","anchor":"middle","frame":"group","offset":17}},
{
"columns":3,
"spacing":{"row":80,"column":268},
"bounds":"flush",
"concat":[
{"width":669,"height":396,"data":{"name":"om"},"title":{"text":"OM","fontSize":64,"fontWeight":"normal","anchor":"middle","frame":"group","offset":5},
"layer":[
{"mark":{"type":"line","color":"black"},"encoding":{
"x":{"field":"f","type":"quantitative","scale":{"domain":[0,1000],"nice":false,"zero":false},"axis":{"orient":"bottom","values":[0,250,500,750,1000],"tickSize":45,"labels":false,"title":null}},
"y":{"field":"na","type":"quantitative","scale":{"domain":[-100,-40],"nice":false,"zero":false},"axis":{"orient":"left","offset":23,"values":[-100,-90,-80,-70,-60,-50,-40],"tickSize":45,"labelPadding":22,"labelExpr":"datum.value % 20 === 0 ? '' + datum.value : ''","title":"Na⁺ (dB)","titlePadding":4}}}},
{"mark":{"type":"line","opacity":0},"encoding":{
"x":{"field":"f","type":"quantitative","axis":{"orient":"bottom","values":[50,100,150,200,300,350,400,450,550,600,650,700,800,850,900,950],"tickSize":23,"labels":false,"domain":false,"title":null}},
"y":{"field":"na","type":"quantitative","axis":{"orient":"left","offset":23,"values":[-95,-85,-75,-65,-55,-45],"tickSize":23,"labels":false,"domain":false,"title":null}}}}
],"resolve":{"axis":{"x":"independent","y":"independent"}}},
{"width":669,"height":396,"data":{"name":"cmj"},"title":{"text":"Cortico-Medullary Junction","fontSize":64,"fontWeight":"normal","anchor":"middle","frame":"group","offset":17},
"layer":[
{"mark":{"type":"line","color":"black"},"encoding":{
"x":{"field":"f","type":"quantitative","scale":{"domain":[0,750],"nice":false,"zero":false},"axis":{"orient":"bottom","values":[0,250,500,750],"tickSize":45,"labels":false,"title":null}},
"y":{"field":"na","type":"quantitative","scale":{"domain":[-100,-40],"nice":false,"zero":false},"axis":{"orient":"left","offset":23,"values":[-100,-90,-80,-70,-60,-50,-40],"tickSize":45,"labelPadding":22,"labelExpr":"datum.value % 20 === 0 ? '' + datum.value : ''","title":null}}}},
{"mark":{"type":"line","opacity":0},"encoding":{
"x":{"field":"f","type":"quantitative","axis":{"orient":"bottom","values":[50,100,150,200,300,350,400,450,550,600,650,700],"tickSize":23,"labels":false,"domain":false,"title":null}},
"y":{"field":"na","type":"quantitative","axis":{"orient":"left","offset":23,"values":[-95,-85,-75,-65,-55,-45],"tickSize":23,"labels":false,"domain":false,"title":null}}}}
],"resolve":{"axis":{"x":"independent","y":"independent"}}},
{"width":669,"height":396,"data":{"name":"lc"},"title":{"text":"Late Cortex","fontSize":64,"fontWeight":"normal","anchor":"middle","frame":"group","offset":5},
"layer":[
{"mark":{"type":"line","color":"black"},"encoding":{
"x":{"field":"f","type":"quantitative","scale":{"domain":[0,500],"nice":false,"zero":false},"axis":{"orient":"bottom","values":[0,250,500],"tickSize":45,"labels":false,"title":null}},
"y":{"field":"na","type":"quantitative","scale":{"domain":[-100,-40],"nice":false,"zero":false},"axis":{"orient":"left","offset":23,"values":[-100,-90,-80,-70,-60,-50,-40],"tickSize":45,"labelPadding":22,"labelExpr":"datum.value % 20 === 0 ? '' + datum.value : ''","title":null}}}},
{"mark":{"type":"line","opacity":0},"encoding":{
"x":{"field":"f","type":"quantitative","axis":{"orient":"bottom","values":[50,100,150,200,300,350,400,450],"tickSize":23,"labels":false,"domain":false,"title":null}},
"y":{"field":"na","type":"quantitative","axis":{"orient":"left","offset":23,"values":[-95,-85,-75,-65,-55,-45],"tickSize":23,"labels":false,"domain":false,"title":null}}}}
],"resolve":{"axis":{"x":"independent","y":"independent"}}},

{"width":669,"height":396,"data":{"name":"om"},
"layer":[
{"mark":{"type":"line","color":"black"},"encoding":{
"x":{"field":"f","type":"quantitative","scale":{"domain":[0,1000],"nice":false,"zero":false},"axis":{"orient":"bottom","values":[0,250,500,750,1000],"tickSize":45,"labels":false,"title":null}},
"y":{"field":"cl","type":"quantitative","scale":{"domain":[-100,-60],"nice":false,"zero":false},"axis":{"orient":"left","offset":23,"values":[-100,-90,-80,-70,-60],"tickSize":45,"labelPadding":22,"labelExpr":"datum.value % 20 === 0 ? '' + datum.value : ''","title":"Cl⁻ (dB)","titlePadding":4}}}},
{"mark":{"type":"line","opacity":0},"encoding":{
"x":{"field":"f","type":"quantitative","axis":{"orient":"bottom","values":[50,100,150,200,300,350,400,450,550,600,650,700,800,850,900,950],"tickSize":23,"labels":false,"domain":false,"title":null}},
"y":{"field":"cl","type":"quantitative","axis":{"orient":"left","offset":23,"values":[-95,-85,-75,-65],"tickSize":23,"labels":false,"domain":false,"title":null}}}}
],"resolve":{"axis":{"x":"independent","y":"independent"}}},
{"width":669,"height":396,"data":{"name":"cmj"},
"layer":[
{"mark":{"type":"line","color":"black"},"encoding":{
"x":{"field":"f","type":"quantitative","scale":{"domain":[0,750],"nice":false,"zero":false},"axis":{"orient":"bottom","values":[0,250,500,750],"tickSize":45,"labels":false,"title":null}},
"y":{"field":"cl","type":"quantitative","scale":{"domain":[-100,-60],"nice":false,"zero":false},"axis":{"orient":"left","offset":23,"values":[-100,-90,-80,-70,-60],"tickSize":45,"labelPadding":22,"labelExpr":"datum.value % 20 === 0 ? '' + datum.value : ''","title":null}}}},
{"mark":{"type":"line","opacity":0},"encoding":{
"x":{"field":"f","type":"quantitative","axis":{"orient":"bottom","values":[50,100,150,200,300,350,400,450,550,600,650,700],"tickSize":23,"labels":false,"domain":false,"title":null}},
"y":{"field":"cl","type":"quantitative","axis":{"orient":"left","offset":23,"values":[-95,-85,-75,-65],"tickSize":23,"labels":false,"domain":false,"title":null}}}}
],"resolve":{"axis":{"x":"independent","y":"independent"}}},
{"width":669,"height":396,"data":{"name":"lc"},
"layer":[
{"mark":{"type":"line","color":"black"},"encoding":{
"x":{"field":"f","type":"quantitative","scale":{"domain":[0,500],"nice":false,"zero":false},"axis":{"orient":"bottom","values":[0,250,500],"tickSize":45,"labels":false,"title":null}},
"y":{"field":"cl","type":"quantitative","scale":{"domain":[-100,-60],"nice":false,"zero":false},"axis":{"orient":"left","offset":23,"values":[-100,-90,-80,-70,-60],"tickSize":45,"labelPadding":22,"labelExpr":"datum.value % 20 === 0 ? '' + datum.value : ''","title":null}}}},
{"mark":{"type":"line","opacity":0},"encoding":{
"x":{"field":"f","type":"quantitative","axis":{"orient":"bottom","values":[50,100,150,200,300,350,400,450],"tickSize":23,"labels":false,"domain":false,"title":null}},
"y":{"field":"cl","type":"quantitative","axis":{"orient":"left","offset":23,"values":[-95,-85,-75,-65],"tickSize":23,"labels":false,"domain":false,"title":null}}}}
],"resolve":{"axis":{"x":"independent","y":"independent"}}},

{"width":669,"height":396,"data":{"name":"om"},
"layer":[
{"mark":{"type":"line","color":"black"},"encoding":{
"x":{"field":"f","type":"quantitative","scale":{"domain":[0,1000],"nice":false,"zero":false},"axis":{"orient":"bottom","values":[0,250,500,750,1000],"tickSize":45,"labels":false,"title":null}},
"y":{"field":"k","type":"quantitative","scale":{"domain":[-40,20],"nice":false,"zero":false},"axis":{"orient":"left","offset":23,"values":[-40,-30,-20,-10,0,10,20],"tickSize":45,"labelPadding":22,"labelExpr":"datum.value % 20 === 0 ? '' + datum.value : ''","title":"K⁺ (dB)","titlePadding":4}}}},
{"mark":{"type":"line","opacity":0},"encoding":{
"x":{"field":"f","type":"quantitative","axis":{"orient":"bottom","values":[50,100,150,200,300,350,400,450,550,600,650,700,800,850,900,950],"tickSize":23,"labels":false,"domain":false,"title":null}},
"y":{"field":"k","type":"quantitative","axis":{"orient":"left","offset":23,"values":[-35,-25,-15,-5,5,15],"tickSize":23,"labels":false,"domain":false,"title":null}}}}
],"resolve":{"axis":{"x":"independent","y":"independent"}}},
{"width":669,"height":396,"data":{"name":"cmj"},
"layer":[
{"mark":{"type":"line","color":"black"},"encoding":{
"x":{"field":"f","type":"quantitative","scale":{"domain":[0,750],"nice":false,"zero":false},"axis":{"orient":"bottom","values":[0,250,500,750],"tickSize":45,"labels":false,"title":null}},
"y":{"field":"k","type":"quantitative","scale":{"domain":[-40,20],"nice":false,"zero":false},"axis":{"orient":"left","offset":23,"values":[-40,-30,-20,-10,0,10,20],"tickSize":45,"labelPadding":22,"labelExpr":"datum.value % 20 === 0 ? '' + datum.value : ''","title":null}}}},
{"mark":{"type":"line","opacity":0},"encoding":{
"x":{"field":"f","type":"quantitative","axis":{"orient":"bottom","values":[50,100,150,200,300,350,400,450,550,600,650,700],"tickSize":23,"labels":false,"domain":false,"title":null}},
"y":{"field":"k","type":"quantitative","axis":{"orient":"left","offset":23,"values":[-35,-25,-15,-5,5,15],"tickSize":23,"labels":false,"domain":false,"title":null}}}}
],"resolve":{"axis":{"x":"independent","y":"independent"}}},
{"width":669,"height":396,"data":{"name":"lc"},
"layer":[
{"mark":{"type":"line","color":"black"},"encoding":{
"x":{"field":"f","type":"quantitative","scale":{"domain":[0,500],"nice":false,"zero":false},"axis":{"orient":"bottom","values":[0,250,500],"tickSize":45,"labels":false,"title":null}},
"y":{"field":"k","type":"quantitative","scale":{"domain":[-40,20],"nice":false,"zero":false},"axis":{"orient":"left","offset":23,"values":[-40,-30,-20,-10,0,10,20],"tickSize":45,"labelPadding":22,"labelExpr":"datum.value % 20 === 0 ? '' + datum.value : ''","title":null}}}},
{"mark":{"type":"line","opacity":0},"encoding":{
"x":{"field":"f","type":"quantitative","axis":{"orient":"bottom","values":[50,100,150,200,300,350,400,450],"tickSize":23,"labels":false,"domain":false,"title":null}},
"y":{"field":"k","type":"quantitative","axis":{"orient":"left","offset":23,"values":[-35,-25,-15,-5,5,15],"tickSize":23,"labels":false,"domain":false,"title":null}}}}
],"resolve":{"axis":{"x":"independent","y":"independent"}}},

{"width":669,"height":396,"data":{"name":"om"},
"layer":[
{"mark":{"type":"line","color":"black"},"encoding":{
"x":{"field":"f","type":"quantitative","scale":{"domain":[0,1000],"nice":false,"zero":false},"axis":{"orient":"bottom","values":[0,250,500,750,1000],"tickSize":45,"labelPadding":10,"labelExpr":"'' + datum.value","title":"frequency (mHz)","titlePadding":8}},
"y":{"field":"nh4","type":"quantitative","scale":{"domain":[-60,20],"nice":false,"zero":false},"axis":{"orient":"left","offset":23,"values":[-60,-50,-40,-30,-20,-10,0,10,20],"tickSize":45,"labelPadding":22,"labelExpr":"datum.value % 20 === 0 ? '' + datum.value : ''","title":"NH₄⁺ (dB)","titlePadding":4}}}},
{"mark":{"type":"line","opacity":0},"encoding":{
"x":{"field":"f","type":"quantitative","axis":{"orient":"bottom","values":[50,100,150,200,300,350,400,450,550,600,650,700,800,850,900,950],"tickSize":23,"labels":false,"domain":false,"title":null}},
"y":{"field":"nh4","type":"quantitative","axis":{"orient":"left","offset":23,"values":[-55,-45,-35,-25,-15,-5,5,15],"tickSize":23,"labels":false,"domain":false,"title":null}}}}
],"resolve":{"axis":{"x":"independent","y":"independent"}}},
{"width":669,"height":396,"data":{"name":"cmj"},
"layer":[
{"mark":{"type":"line","color":"black"},"encoding":{
"x":{"field":"f","type":"quantitative","scale":{"domain":[0,750],"nice":false,"zero":false},"axis":{"orient":"bottom","values":[0,250,500,750],"tickSize":45,"labelPadding":10,"labelExpr":"'' + datum.value","title":"frequency (mHz)","titlePadding":8}},
"y":{"field":"nh4","type":"quantitative","scale":{"domain":[-60,20],"nice":false,"zero":false},"axis":{"orient":"left","offset":23,"values":[-60,-50,-40,-30,-20,-10,0,10,20],"tickSize":45,"labelPadding":22,"labelExpr":"datum.value % 20 === 0 ? '' + datum.value : ''","title":null}}}},
{"mark":{"type":"line","opacity":0},"encoding":{
"x":{"field":"f","type":"quantitative","axis":{"orient":"bottom","values":[50,100,150,200,300,350,400,450,550,600,650,700],"tickSize":23,"labels":false,"domain":false,"title":null}},
"y":{"field":"nh4","type":"quantitative","axis":{"orient":"left","offset":23,"values":[-55,-45,-35,-25,-15,-5,5,15],"tickSize":23,"labels":false,"domain":false,"title":null}}}}
],"resolve":{"axis":{"x":"independent","y":"independent"}}},
{"width":669,"height":396,"data":{"name":"lc"},
"layer":[
{"mark":{"type":"line","color":"black"},"encoding":{
"x":{"field":"f","type":"quantitative","scale":{"domain":[0,500],"nice":false,"zero":false},"axis":{"orient":"bottom","values":[0,250,500],"tickSize":45,"labelPadding":10,"labelExpr":"'' + datum.value","title":"frequency (mHz)","titlePadding":8}},
"y":{"field":"nh4","type":"quantitative","scale":{"domain":[-60,20],"nice":false,"zero":false},"axis":{"orient":"left","offset":23,"values":[-60,-50,-40,-30,-20,-10,0,10,20],"tickSize":45,"labelPadding":22,"labelExpr":"datum.value % 20 === 0 ? '' + datum.value : ''","title":null}}}},
{"mark":{"type":"line","opacity":0},"encoding":{
"x":{"field":"f","type":"quantitative","axis":{"orient":"bottom","values":[50,100,150,200,300,350,400,450],"tickSize":23,"labels":false,"domain":false,"title":null}},
"y":{"field":"nh4","type":"quantitative","axis":{"orient":"left","offset":23,"values":[-55,-45,-35,-25,-15,-5,5,15],"tickSize":23,"labels":false,"domain":false,"title":null}}}}
],"resolve":{"axis":{"x":"independent","y":"independent"}}}
]
}
],
"spacing":228,
"bounds":"flush"
}
],
"spacing":387,
"bounds":"flush"
}
